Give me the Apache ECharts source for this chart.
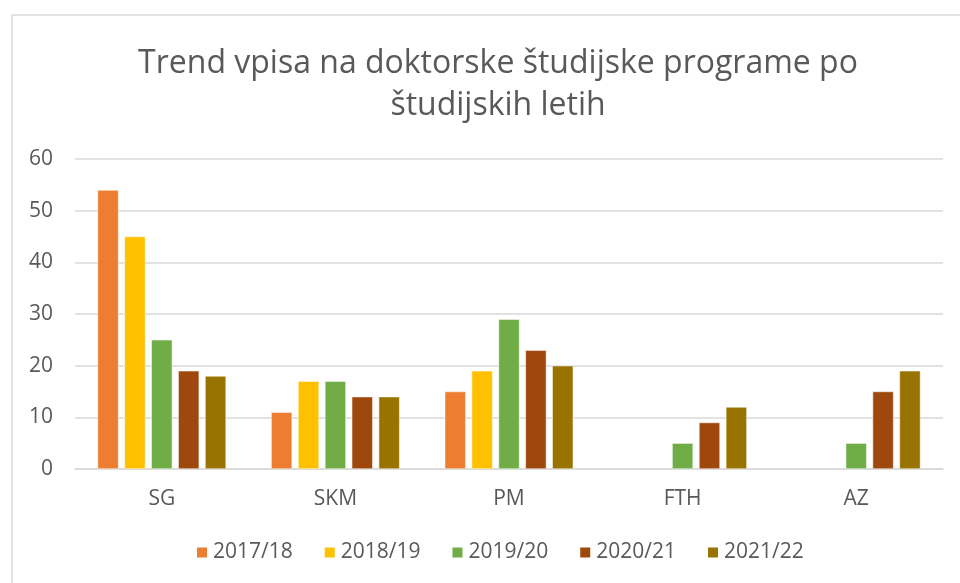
<!DOCTYPE html>
<html>
<head>
<meta charset="utf-8">
<script src="https://cdn.jsdelivr.net/npm/echarts@6/dist/echarts.min.js"></script>
<style>
html, body { margin: 0; padding: 0; background: #fff; }
#main { width: 960px; height: 583px; }
</style>
</head>
<body>
<div id="main"></div>
<script>
var categories = ['SG', 'SKM', 'PM', 'FTH', 'AZ'];
var seriesNames = ['2017/18', '2018/19', '2019/20', '2020/21', '2021/22'];
var v2017 = [54, 11, 15, null, null];
var v2018 = [45, 17, 19, null, null];
var v2019 = [25, 17, 29, 5, 5];
var v2020 = [19, 14, 23, 9, 15];
var v2021 = [18, 14, 20, 12, 19];
var colors = ['#ED7D31', '#FFC000', '#70AD47', '#9E480E', '#997300'];

var allValues = [v2017, v2018, v2019, v2020, v2021];
var font = '"Open Sans", "Noto Sans", sans-serif';

var chart = echarts.init(document.getElementById('main'));

var series = [];
for (var i = 0; i < seriesNames.length; i++) {
    series.push({
        name: seriesNames[i],
        type: 'bar',
        data: allValues[i],
        barWidth: 21,
        barGap: '28%',
        itemStyle: {
            color: colors[i],
            borderColor: '#ffffff',
            borderWidth: 0.5
        }
    });
}

var option = {
    animation: false,
    color: colors,
    graphic: [{
        type: 'rect',
        shape: { x: 12, y: 15, width: 960, height: 600 },
        style: { fill: 'none', stroke: '#d9d9d9', lineWidth: 1.5 },
        silent: true
    }],
    title: {
        text: 'Trend vpisa na doktorske študijske programe po\nštudijskih letih',
        left: 493,
        textAlign: 'center',
        top: 38,
        textStyle: {
            fontFamily: font,
            fontSize: 32,
            fontWeight: 'normal',
            color: '#595959',
            lineHeight: 42
        }
    },
    legend: {
        data: seriesNames,
        bottom: 15,
        left: 190,
        itemWidth: 12,
        itemHeight: 12,
        itemGap: 30,
        icon: 'rect',
        textStyle: { fontFamily: font, fontSize: 21, color: '#595959' }
    },
    grid: { left: 75, right: 17, top: 159, bottom: 114 },
    xAxis: {
        type: 'category',
        data: categories,
        axisTick: { show: false },
        axisLine: { lineStyle: { color: '#d9d9d9', width: 1.5 } },
        axisLabel: { fontFamily: font, fontSize: 21, color: '#595959', margin: 20 }
    },
    yAxis: {
        type: 'value',
        min: 0,
        max: 60,
        interval: 10,
        axisLine: { show: false },
        axisTick: { show: false },
        splitLine: { lineStyle: { color: '#d9d9d9', width: 1.5 } },
        axisLabel: { fontFamily: font, fontSize: 21, color: '#595959', margin: 22 }
    },
    series: series
};

chart.setOption(option);
</script>
</body>
</html>
